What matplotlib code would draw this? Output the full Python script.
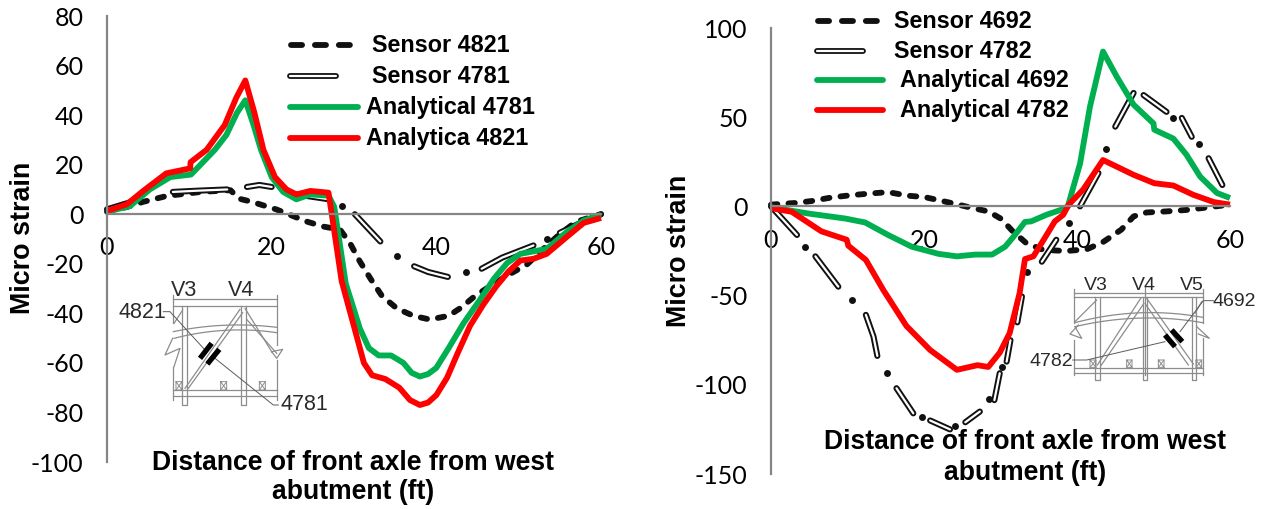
import numpy as np
import matplotlib
matplotlib.use('Agg')
import matplotlib.pyplot as plt

plt.rcParams['axes.unicode_minus'] = False

nan = np.nan
W, H = 1263, 509

# left chart
x_a4781 = [0, 2.8, 5.2, 7.7, 10.2, 13.1, 14.5, 15.8, 16.8, 17.8, 18.7, 20, 21.4, 23, 24.7, 26.9, 27.6, 29, 30.7, 31.8, 33, 34.5, 36, 37, 38, 39, 40, 41.5, 43.3, 45.3, 47, 48.6, 50.2, 51.8, 53.4, 55.9, 57.9, 60]
y_a4781 = [1, 3.3, 10, 15, 16, 26, 32, 41, 46, 36, 26, 15, 9, 6, 8, 7.5, 3, -28, -46, -54, -57, -57, -60, -64, -65.5, -64.5, -62, -54, -44, -34.5, -26, -19.7, -16, -15, -14, -7, -2.5, -0.3]
x_a4821 = [0, 2.4, 4.4, 7.2, 10.1, 10.15, 12.1, 14.3, 15.7, 16.8, 17.9, 19, 20.4, 21.8, 23, 24.7, 26.9, 27.3, 28.5, 30.1, 31.2, 32.2, 33.8, 35.5, 36.8, 38, 39, 40, 41.3, 42.6, 44.1, 45.7, 47.3, 48.8, 50.2, 51.8, 53.4, 55.9, 57.9, 60]
y_a4821 = [1.3, 4, 9.4, 16.5, 18.5, 21, 26, 36, 47, 54, 41, 26, 15, 10, 8, 9.4, 8.7, 0, -27, -46.5, -60, -65, -66.5, -70, -75, -77, -76, -73, -66, -56, -45, -36.5, -29, -23, -18.7, -18, -16, -9, -3.5, -1.5]
x_s4821 = [0, 2.5, 4.4, 7.3, 11.4, 15, 16, 17.6, 20.6, 24.3, 26.3, 28.3, 29.5, 30.7, 32, 33.4, 35.2, 37.2, 39.2, 41.5, 43, 44.7, 47, 49, 51, 53, 55, 57, 60]
y_s4821 = [1, 3, 5, 7.4, 9, 9.7, 6.3, 5, 1.9, -3, -5, -6.2, -11.6, -19, -26, -33, -38, -41, -42.5, -41, -37.7, -33, -28, -24, -20.3, -14, -8, -3, 0]
x_s4781 = [0, 3, nan, 8, 11, 14.6, nan, 17, 18.5, 20, nan, 23, 25, 27, nan, 30.1, 33.2, nan, 37.3, 39, 41.4, nan, 45.5, 48, 51.8, nan, 55, 57.5, 60]
y_s4781 = [2, 5, nan, 9, 9.5, 10, nan, 11, 11.8, 11, nan, 8, 7, 6, nan, 0, -11, nan, -21, -23.3, -25.3, nan, -22, -17.5, -12.6, nan, -7.5, -3.5, 0]
dots_x_4781 = [28.6, 35.2, 43.6, 53.4]
dots_y_4781 = [3.3, -16.8, -23.5, -10]

# right chart
x_a4692 = [0, 4.9, 9.7, 12.3, 15.3, 18.4, 21.9, 24.3, 26.7, 28.9, 30.6, 31.7, 33.2, 34, 36, 38.2, 38.8, 40.4, 41.7, 43.4, 45.2, 47.4, 50, 50.1, 52.6, 54.3, 56.1, 58.3, 60]
y_a4692 = [-0.5, -4, -6.8, -9, -16, -22.6, -26.6, -28, -27, -27, -22.6, -17, -8.7, -8.4, -4.7, -1.5, 0, 24, 56, 86.8, 72.7, 57, 46.5, 43, 38, 29, 16.7, 7.5, 4.7]
x_a4782 = [0, 2.7, 6.6, 9.9, 10.1, 12.4, 14.7, 17.7, 20.8, 24.3, 27, 28.4, 29.9, 31.2, 32.5, 33.2, 34.3, 35.6, 37.1, 38.2, 38.9, 40.8, 43.4, 47.4, 50.1, 52.6, 55.2, 57.9, 60]
y_a4782 = [-1, -3, -14, -18.7, -22, -30, -47, -67, -80.5, -91.6, -89, -90, -82, -71, -48.6, -29.5, -28, -19, -8.4, -4.7, 0.9, 9.4, 26, 17.7, 13, 11.7, 6.5, 2.4, 1]
x_s4692 = [0, 3.1, 5.3, 7.9, 10.5, 12.9, 15.3, 17.9, 20.1, 22.1, 24, 26.2, 28.4, 30.1, 31.5, 33.4, 35.6, 38.65, 41.3, 43.4, 45.8, 47.4, 49.1, 51.7, 54.3, 57, 60]
y_s4692 = [1, 1.9, 3, 5, 6.3, 7.2, 8, 6, 5.2, 3.3, 1.5, -0.8, -2.8, -7, -13.5, -20.7, -24.4, -25, -24, -20, -13, -5.6, -3.4, -2.8, -2, -0.6, 1]
x_s4782 = [0, 3.4, nan, 5.8, 8.8, nan, 12.4, 13.4, 13.9, nan, 16.4, 18.6, nan, 20.8, 23.4, nan, 25.4, 27.3, nan, 29.2, 29.9, nan, 30.8, 31.3, nan, 32.2, 32.8, nan, 35.4, 37.3, nan, 40.4, 42.8, nan, 45, 47.4, nan, 48.7, 51.7, nan, 53.7, 55, nan, 57.2, 59]
y_s4782 = [0, -16, nan, -28, -45, nan, -60.8, -73, -83.8, nan, -101.9, -116, nan, -120, -125, nan, -121, -115, nan, -108.6, -93.5, nan, -87, -75, nan, -65, -50.5, nan, -31, -18.7, nan, 0, 18.7, nan, 44.7, 63.6, nan, 62.4, 53, nan, 49.6, 39, nan, 27, 12]
dots_x_4782 = [4.5, 10.6, 15.2, 19.7, 24.1, 28.5, 30.2, 33.5, 38.9, 43.8, 52.5, 55.9]
dots_y_4782 = [-22.6, -52.4, -93.5, -118, -123, -108, -90, -37, -9.4, 32, 49.6, 35]

xticks = [0, 20, 40, 60]
yticks_left = list(range(-100, 81, 20))
yticks_right = list(range(-150, 101, 50))

legend_left = ['Sensor 4821', 'Sensor 4781', 'Analytical 4781', 'Analytica 4821']
legend_right = ['Sensor 4692', 'Sensor 4782', 'Analytical 4692', 'Analytical 4782']
xlabel_lines = ['Distance of front axle from west', 'abutment (ft)']

# schematic pieces, in 3x crop units
left_lines = [
    [(220, 28), (530, 28)], [(220, 48), (530, 48)], [(220, 300), (530, 300)], [(220, 318), (530, 318)],
    [(247, 48), (247, 345), (262, 345), (262, 48)], [(422, 48), (422, 345), (438, 345), (438, 48)],
    [(220, 15), (220, 100)], [(220, 230), (220, 330)], [(530, 15), (530, 165)], [(530, 210), (530, 330)],
    [(255, 295), (420, 58)], [(265, 295), (428, 68)], [(435, 55), (515, 185)], [(440, 88), (530, 190)],
    [(222, 100), (248, 60)], [(218, 145), (195, 195), (240, 175), (222, 230)],
    [(515, 185), (548, 178), (530, 205), (515, 185)],
]
left_arcs = [[(220, 125), (400, 105), (530, 112)], [(222, 145), (400, 120), (530, 128)]]
left_boxes = [(228, 275, 246, 300), (362, 275, 380, 300), (478, 275, 496, 300)]
left_leaders = [[(190, 65), (210, 65), (315, 180)], [(345, 205), (520, 345), (535, 345)]]
left_sensors = [[(300, 205), (335, 160)], [(322, 222), (358, 178)]]

right_lines = [
    [(162, 98), (548, 98)], [(162, 112), (548, 112)], [(162, 325), (548, 325)], [(162, 340), (548, 340)],
    [(224, 112), (224, 360), (240, 360), (240, 112)], [(368, 112), (368, 360), (382, 360), (382, 112)],
    [(515, 112), (515, 360), (528, 360), (528, 112)], [(162, 88), (162, 190)], [(162, 240), (162, 345)],
    [(548, 88), (548, 190)], [(548, 235), (548, 345)], [(375, 80), (375, 345)],
    [(232, 315), (362, 115)], [(242, 318), (372, 130)], [(380, 115), (520, 312)], [(378, 135), (505, 315)],
    [(165, 185), (230, 120)], [(525, 160), (545, 125)],
    [(175, 195), (150, 222), (185, 235), (165, 200)], [(530, 200), (568, 235), (535, 222)],
]
right_arcs = [[(165, 188), (375, 158), (548, 172)], [(165, 200), (375, 174), (548, 188)]]
right_boxes = [(210, 300, 228, 322), (320, 300, 336, 322), (415, 300, 432, 322), (528, 300, 545, 322)]
right_leaders = [[(580, 122), (550, 122), (480, 215)], [(158, 300), (200, 300), (435, 245)]]
right_sensors = [[(435, 225), (465, 260)], [(455, 210), (487, 245)]]

TICK_FONT = 'Lato'
BOLD = 'Liberation Sans'
ARIAL = 'Liberation Sans'
GREEN = '#00b050'
RED = '#ff0000'
AXIS = '#868686'
LINE_W = 4.2
INK = '#111111'


def make_axes(fig, x0, x1, y_top, y_bot, ylim, yticks):
    ax = fig.add_axes([x0 / W, 1 - y_bot / H, (x1 - x0) / W, (y_bot - y_top) / H])
    ax.set_xlim(0, 60)
    ax.set_ylim(*ylim)
    ax.set_xticks(xticks)
    ax.set_yticks(yticks)
    ax.patch.set_alpha(0)
    for side in ['top', 'right']:
        ax.spines[side].set_visible(False)
    ax.spines['bottom'].set_position(('data', 0))
    for side in ['left', 'bottom']:
        ax.spines[side].set_color(AXIS)
        ax.spines[side].set_linewidth(1.6)
    ax.tick_params(axis='x', length=0, pad=16, labelsize=18)
    ax.tick_params(axis='y', length=0, pad=17, labelsize=18)
    for lab in ax.get_xticklabels() + ax.get_yticklabels():
        lab.set_fontfamily(TICK_FONT)
    return ax


def draw_series(ax, x, y, color):
    ax.plot(x, y, color=color, lw=LINE_W, solid_joinstyle='round', solid_capstyle='butt', clip_on=False)


def draw_dashed(ax, x, y):
    ax.plot(x, y, color=INK, lw=LINE_W, dashes=(1.1, 1.9), dash_capstyle='round', dash_joinstyle='round', clip_on=False)


def draw_outline(ax, x, y, dx, dy):
    ax.plot(x, y, color=INK, lw=4.4, solid_capstyle='round', solid_joinstyle='round', clip_on=False)
    ax.plot(x, y, color='white', lw=1.6, solid_capstyle='round', solid_joinstyle='round', clip_on=False)
    ax.plot(dx, dy, 'o', color=INK, ms=5, mew=0, clip_on=False)


def draw_legend(over, labels, xs, ys, text_x, dash_end):
    over.plot([xs[0] + 3, xs[1] - 6], [ys[0]] * 2, color=INK, lw=LINE_W, dashes=(1.9, 2.2), dash_capstyle='round')
    over.plot([xs[0] + 2, dash_end - 2], [ys[1]] * 2, color=INK, lw=LINE_W, solid_capstyle='round')
    over.plot([xs[0] + 2, dash_end - 2], [ys[1]] * 2, color='white', lw=1.6, solid_capstyle='round')
    over.plot([xs[0] + 2, xs[1] - 2], [ys[2]] * 2, color=GREEN, lw=LINE_W, solid_capstyle='round')
    over.plot([xs[0] + 2, xs[1] - 2], [ys[3]] * 2, color=RED, lw=LINE_W, solid_capstyle='round')
    for label, tx, ty in zip(labels, text_x, ys):
        over.text(tx, ty, label, fontsize=16.8, fontweight='bold', family=BOLD, va='center', ha='left', color='black')


def draw_sketch(over, x0, y0, lines, arcs, boxes, leaders, sensors):
    def path(pts):
        return [x0 + p[0] / 3 for p in pts], [y0 + p[1] / 3 for p in pts]
    for pts in lines:
        over.plot(*path(pts), color='#8c8c8c', lw=0.9)
    for (ax_, ay), (bx, by), (cx, cy) in arcs:
        coef = np.polyfit([ax_, bx, cx], [ay, by, cy], 2)
        xs = np.linspace(ax_, cx, 40)
        over.plot(*path(list(zip(xs, np.polyval(coef, xs)))), color='#8c8c8c', lw=0.9)
    for bx0, by0, bx1, by1 in boxes:
        over.plot(*path([(bx0, by0), (bx1, by0), (bx1, by1), (bx0, by1), (bx0, by0), (bx1, by1)]), color='#8c8c8c', lw=0.7)
        over.plot(*path([(bx1, by0), (bx0, by1)]), color='#8c8c8c', lw=0.7)
    for pts in leaders:
        over.plot(*path(pts), color='#5a5a5a', lw=0.7)
    for pts in sensors:
        over.plot(*path(pts), color='black', lw=3.8, solid_capstyle='butt')


fig = plt.figure(figsize=(W / 100, H / 100), dpi=100)

ax1 = make_axes(fig, 107, 601, 16, 462, (-100, 80), yticks_left)
draw_dashed(ax1, x_s4821, y_s4821)
draw_outline(ax1, x_s4781, y_s4781, dots_x_4781, dots_y_4781)
draw_series(ax1, x_a4781, y_a4781, GREEN)
draw_series(ax1, x_a4821, y_a4821, RED)

ax2 = make_axes(fig, 771, 1230, 28, 474, (-150, 100), yticks_right)
draw_dashed(ax2, x_s4692, y_s4692)
draw_outline(ax2, x_s4782, y_s4782, dots_x_4782, dots_y_4782)
draw_series(ax2, x_a4692, y_a4692, GREEN)
draw_series(ax2, x_a4782, y_a4782, RED)

# overlay in image pixels for legends, sketches and wrapped titles
over = fig.add_axes([0, 0, 1, 1])
over.set_xlim(0, W)
over.set_ylim(H, 0)
over.axis('off')

draw_legend(over, legend_left, (288, 360), (45, 76, 107, 138), (372, 372, 366, 366), 338)
draw_legend(over, legend_right, (815, 885), (21, 51, 80, 110), (894, 894, 900, 900), 865)

draw_sketch(over, 100, 290, left_lines, left_arcs, left_boxes, left_leaders, left_sensors)
draw_sketch(over, 1020, 260, right_lines, right_arcs, right_boxes, right_leaders, right_sensors)
for tx, ty, s, fs in [(184, 290, 'V3', 15.5), (241, 290, 'V4', 15.5), (142, 312, '4821', 15.5), (304, 405, '4781', 15.5),
                      (1096, 285, 'V3', 14), (1144, 285, 'V4', 14), (1192, 285, 'V5', 14),
                      (1234, 302, '4692', 14), (1051, 361, '4782', 14)]:
    over.text(tx, ty, s, fontsize=fs, family=ARIAL, ha='center', va='center', color='#2a2a2a')

for cx, ys in [(353, (463, 492)), (1025, (442, 473))]:
    for line, ty in zip(xlabel_lines, ys):
        over.text(cx, ty, line, fontsize=19.1, fontweight='bold', family=BOLD, ha='center', va='center')
for tx, ty in [(23, 238), (679, 251)]:
    over.text(tx, ty, 'Micro strain', fontsize=19.4, fontweight='bold', family=BOLD, rotation=90, ha='center', va='center')

fig.savefig('out.png', dpi=100)
